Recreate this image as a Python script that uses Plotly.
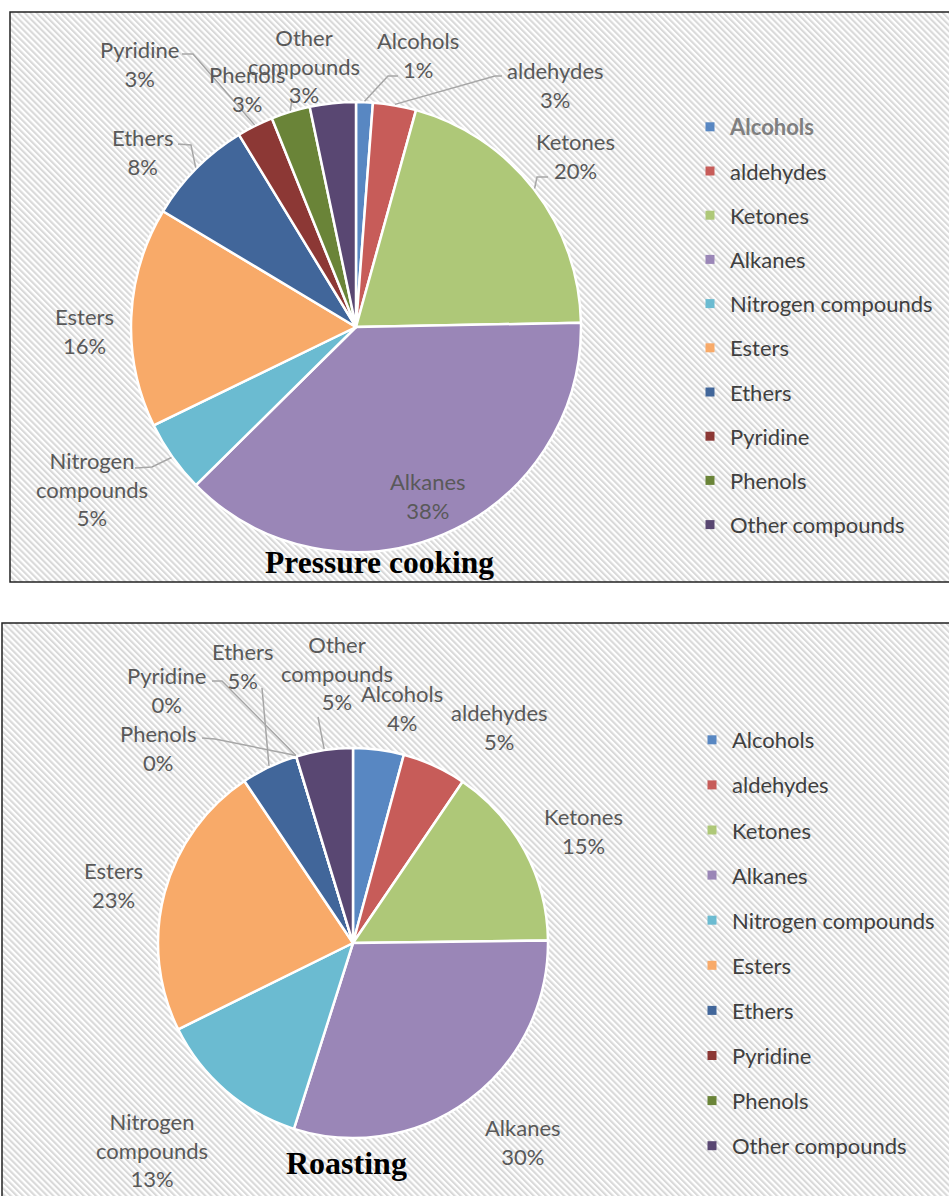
import math
import base64
import plotly.graph_objects as go

W, H = 949, 1196

# ---------------- data ----------------
categories = ["Alcohols", "aldehydes", "Ketones", "Alkanes", "Nitrogen compounds",
              "Esters", "Ethers", "Pyridine", "Phenols", "Other compounds"]
label_names = ["Alcohols", "aldehydes", "Ketones", "Alkanes", "Nitrogen<br>compounds",
               "Esters", "Ethers", "Pyridine", "Phenols", "Other<br>compounds"]
pressure_values = [1.2, 3.1, 20.4, 37.9, 5.2, 15.8, 7.7, 2.6, 2.8, 3.3]
roasting_values = [4.2, 5.3, 15.3, 30.1, 12.8, 22.9, 4.7, 0.0, 0.0, 4.7]
titles = ["Pressure cooking", "Roasting"]

# ---------------- styles ----------------
colors = ["#5887C2", "#C75C59", "#AEC878", "#9A86B7", "#6BBBD1",
          "#F8AA69", "#41669A", "#8C3835", "#6A8438", "#594772"]
LABEL_FONT = dict(family="Lato", size=22, color="#595959")
LEGEND_FONT = dict(family="Lato", size=22, color="#404040")
LINE_COLOR = "#A6A6A6"


def px(x):
    return x / W


def py(y):
    return 1 - y / H


# panel layout (pixel geometry)
panels = [
    dict(values=pressure_values, cx=356, cy=327, r=225, box=(10, 12, W + 6, 582),
         title_pos=(379, 562), title_size=31.5, legend_pos=(690, 106), legend_gap=12.6,
         label_pos={"Alcohols": (418, 55), "aldehydes": (555, 85), "Ketones": (575, 156),
                    "Alkanes": (428, 496), "Nitrogen compounds": (92, 489), "Esters": (84, 331),
                    "Ethers": (142, 152), "Pyridine": (139, 64), "Phenols": (248, 89),
                    "Other compounds": (304, 66)},
         leaders={"Alcohols": [(398, 76), (388, 76)], "aldehydes": [(502, 76), (495, 76)],
                  "Ketones": [(548, 177), (537, 177)], "Nitrogen compounds": [(135, 468), (152, 467)],
                  "Ethers": [(178, 144), (191, 145)], "Pyridine": [(182, 54), (193, 54)],
                  "Phenols": [(292, 100)]}),
    dict(values=roasting_values, cx=353, cy=943, r=195, box=(2, 623, W + 6, H + 6),
         title_pos=(346, 1163), title_size=32, legend_pos=(692, 719), legend_gap=13.5,
         label_pos={"Alcohols": (402, 708), "aldehydes": (499, 727), "Ketones": (583, 831),
                    "Alkanes": (523, 1142), "Nitrogen compounds": (152, 1150), "Esters": (113, 885),
                    "Ethers": (242, 666), "Pyridine": (166, 690), "Phenols": (158, 748),
                    "Other compounds": (337, 673)},
         leaders={"Ethers": [(262, 688)], "Pyridine": [(212, 681), (222, 681)],
                  "Phenols": [(202, 738), (215, 739)], "Other compounds": [(318, 717)]}),
]


def hatch_uri(w, h):
    svg = (f'<svg xmlns="http://www.w3.org/2000/svg" width="{w}" height="{h}">'
           '<defs><pattern id="p" width="4.3" height="12" patternUnits="userSpaceOnUse" '
           'patternTransform="rotate(-45)"><rect width="2.1" height="12" fill="#d9d9d9"/></pattern></defs>'
           '<rect width="100%" height="100%" fill="#ffffff"/>'
           '<rect width="100%" height="100%" fill="url(#p)"/></svg>')
    return "data:image/svg+xml;base64," + base64.b64encode(svg.encode()).decode()


fig = go.Figure()
shapes, annotations, images = [], [], []

for pi, p in enumerate(panels):
    vals = p["values"]
    cx, cy, r = p["cx"], p["cy"], p["r"]
    x0, y0, x1, y1 = p["box"]

    # background hatch + border
    images.append(dict(source=hatch_uri(x1 - x0, y1 - y0), xref="paper", yref="paper",
                       x=px(x0), y=py(y0), sizex=(x1 - x0) / W, sizey=(y1 - y0) / H,
                       xanchor="left", yanchor="top", sizing="stretch", layer="below"))
    shapes.append(dict(type="rect", xref="paper", yref="paper", x0=px(x0), y0=py(y0),
                       x1=px(x1), y1=py(y1), line=dict(color="#222222", width=1.5),
                       fillcolor="rgba(0,0,0,0)", layer="below"))

    fig.add_trace(go.Pie(
        labels=categories, values=vals, sort=False, direction="clockwise", rotation=0,
        marker=dict(colors=colors, line=dict(color="white", width=2.5)),
        textinfo="none", hoverinfo="label+percent", showlegend=False,
        domain=dict(x=[px(cx - r), px(cx + r)], y=[py(cy + r), py(cy - r)]),
    ))

    total = sum(vals)
    cum = 0.0
    for i, cat in enumerate(categories):
        v = vals[i]
        mid = (cum + v / 2) / total
        cum += v
        th = 2 * math.pi * mid
        ex, ey = cx + (r + 1) * math.sin(th), cy - (r + 1) * math.cos(th)
        pct = round(v / total * 100)
        lx, ly = p["label_pos"][cat]
        annotations.append(dict(text=f"{label_names[i]}<br>{pct}%", x=px(lx), y=py(ly),
                                xref="paper", yref="paper", showarrow=False,
                                xanchor="center", yanchor="middle", align="center",
                                font=LABEL_FONT))
        if cat in p["leaders"]:
            pts = p["leaders"][cat] + [(ex, ey)]
            path = "M " + " L ".join(f"{px(a):.5f},{py(b):.5f}" for a, b in pts)
            shapes.append(dict(type="path", xref="paper", yref="paper", path=path,
                               line=dict(color=LINE_COLOR, width=1.5)))

    tx, ty = p["title_pos"]
    annotations.append(dict(text=f"<b>{titles[pi]}</b>", x=px(tx), y=py(ty), xref="paper",
                            yref="paper", showarrow=False, xanchor="center", yanchor="middle",
                            font=dict(family="Liberation Serif", size=p["title_size"], color="black")))

    # legend entries
    lg = "legend" if pi == 0 else "legend2"
    for i, cat in enumerate(categories):
        name = cat
        if pi == 0 and i == 0:
            name = '<span style="color:#7f7f7f"><b>Alcohols</b></span>'
        fig.add_trace(go.Scatter(x=[None], y=[None], mode="markers", name=name,
                                 marker=dict(symbol="square", size=9, color=colors[i]),
                                 legend=lg, legendgroup=f"{pi}_{i}", showlegend=True,
                                 hoverinfo="skip"))

lp1, lp2 = panels[0]["legend_pos"], panels[1]["legend_pos"]
fig.update_layout(
    width=W, height=H, margin=dict(l=0, r=0, t=0, b=0),
    paper_bgcolor="white", plot_bgcolor="rgba(0,0,0,0)",
    xaxis=dict(visible=False), yaxis=dict(visible=False),
    shapes=shapes, annotations=annotations, images=images,
    legend=dict(x=px(lp1[0]), y=py(lp1[1]), xanchor="left", yanchor="top",
                font=LEGEND_FONT, bgcolor="rgba(0,0,0,0)", traceorder="grouped",
                tracegroupgap=panels[0]["legend_gap"], itemwidth=30),
    legend2=dict(x=px(lp2[0]), y=py(lp2[1]), xanchor="left", yanchor="top",
                 font=LEGEND_FONT, bgcolor="rgba(0,0,0,0)", traceorder="grouped",
                 tracegroupgap=panels[1]["legend_gap"], itemwidth=30),
)

fig.write_html("out.html")
